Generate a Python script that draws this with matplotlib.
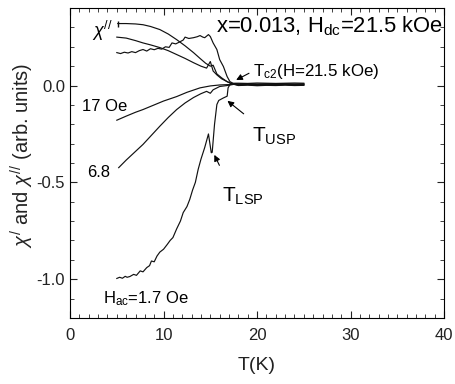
import matplotlib
matplotlib.use("Agg")
import matplotlib.pyplot as plt
from matplotlib.ticker import MultipleLocator

plt.rcParams['font.family'] = ['Liberation Sans', 'DejaVu Sans']
plt.rcParams['mathtext.fontset'] = 'custom'
plt.rcParams['mathtext.rm'] = 'Liberation Sans'
plt.rcParams['mathtext.it'] = 'Liberation Sans:italic'

# common high-T tail (all curves collapse onto ~0 above Tc2)
t_tail = [18, 19, 20, 21, 22, 23, 24, 25]

# chi'' curves
t_a = [5.1, 6, 7, 7.8, 8.6, 9.6, 10.5, 11.4, 12.3, 13.2, 13.9, 14.5, 15.0, 15.3, 15.7, 16.2, 16.8, 17.3, 17.6]
v_a = [0.32, 0.32, 0.318, 0.314, 0.305, 0.289, 0.266, 0.237, 0.205, 0.17, 0.14, 0.115, 0.1, 0.105, 0.06, 0.04, 0.02, 0.01, 0.012]
tail_a = [0.012, 0.011, 0.013, 0.012, 0.011, 0.012, 0.013, 0.012]

t_b = [5.0, 6, 7, 7.8, 8.6, 9.6, 10.5, 11.4, 12.3, 13.2, 14.0, 14.6, 15.0, 15.3, 15.7, 16.2, 16.8, 17.3, 17.6]
v_b = [0.25, 0.245, 0.232, 0.22, 0.21, 0.196, 0.18, 0.16, 0.14, 0.118, 0.1, 0.09, 0.124, 0.075, 0.055, 0.035, 0.02, 0.008, 0.01]
tail_b = [0.009, 0.01, 0.008, 0.009, 0.01, 0.009, 0.008, 0.009]

t_c = [5.0, 5.4, 5.8, 6.2, 6.6, 7.0, 7.4, 7.8, 8.2, 8.6, 9.0, 9.4, 9.8, 10.2, 10.6, 10.9, 11.3, 11.8,
       12.1, 12.3, 12.7, 13.2, 13.6, 13.9, 14.2, 14.4, 14.8, 15.0, 15.3, 15.7, 16.0, 16.4, 16.8, 17.1, 17.5]
v_c = [0.17, 0.165, 0.172, 0.168, 0.175, 0.17, 0.18, 0.186, 0.178, 0.19, 0.185, 0.192, 0.188, 0.2, 0.197,
       0.22, 0.215, 0.227, 0.235, 0.25, 0.243, 0.247, 0.252, 0.258, 0.25, 0.247, 0.263, 0.253, 0.22, 0.186,
       0.134, 0.098, 0.046, 0.02, 0.01]
tail_c = [0.006, 0.008, 0.005, 0.007, 0.006, 0.008, 0.006, 0.007]

# chi' curves for Hac = 17, 6.8, 1.7 Oe
t_17 = [5.0, 6, 7, 7.8, 9, 10, 11.4, 12.5, 13.9, 15, 16, 17, 17.5]
v_17 = [-0.179, -0.158, -0.138, -0.124, -0.1, -0.08, -0.057, -0.035, -0.012, -0.002, 0.003, 0.005, 0.008]
tail_17 = [0.004, 0.006, 0.003, 0.005, 0.004, 0.006, 0.004, 0.005]

t_68 = [5.2, 6, 7, 7.8, 8.7, 9.6, 10.5, 11.4, 12.3, 13.2, 14.0, 14.6, 15.0, 15.3, 16.0, 16.8, 17.5]
v_68 = [-0.424, -0.385, -0.34, -0.304, -0.257, -0.21, -0.165, -0.124, -0.09, -0.062, -0.042, -0.03,
        -0.04, -0.022, -0.005, 0.0, 0.006]
tail_68 = [0.002, 0.004, 0.001, 0.003, 0.002, 0.004, 0.002, 0.003]

t_17b = [5.0, 5.3, 5.6, 5.9, 6.1, 6.4, 6.8, 7.1, 7.5, 7.8, 8.2, 8.5, 8.7, 9.0, 9.3, 9.6, 10.0, 10.4,
         10.7, 11.0, 11.4, 11.8, 12.1, 12.5, 12.8, 13.1, 13.4, 13.7, 14.0, 14.4, 14.8, 15.1, 15.2,
         15.45, 15.7, 15.9, 16.4, 16.8, 16.9, 17.1, 17.5]
v_17b = [-0.996, -0.99, -0.995, -0.985, -0.99, -0.986, -0.975, -0.98, -0.957, -0.962, -0.94, -0.93,
         -0.906, -0.91, -0.88, -0.86, -0.845, -0.82, -0.80, -0.785, -0.74, -0.70, -0.656, -0.625,
         -0.588, -0.54, -0.50, -0.433, -0.38, -0.32, -0.25, -0.347, -0.345, -0.2, -0.098, -0.077,
         -0.064, -0.055, -0.012, 0.005, 0.008]
tail_17b = [0.0, 0.002, -0.001, 0.001, 0.0, 0.002, 0.0, 0.001]

fig = plt.figure(figsize=(4.55, 3.84), dpi=100)
ax = fig.add_axes([0.154, 0.172, 0.822, 0.807])

lw = 0.85
lc = '#111111'
ax.plot(t_a + t_tail, v_a + tail_a, color=lc, lw=lw, marker='|', markevery=[0], ms=5)
for t, v, tl in [(t_b, v_b, tail_b), (t_c, v_c, tail_c), (t_17, v_17, tail_17),
                 (t_68, v_68, tail_68), (t_17b, v_17b, tail_17b)]:
    ax.plot(t + t_tail, v + tl, color=lc, lw=lw)

ax.set_xlim(0, 40)
ax.set_ylim(-1.2, 0.4)
ax.xaxis.set_major_locator(MultipleLocator(10))
ax.xaxis.set_minor_locator(MultipleLocator(1))
ax.yaxis.set_major_locator(MultipleLocator(0.5))
ax.yaxis.set_minor_locator(MultipleLocator(0.1))
ax.tick_params(which='both', direction='in', top=True, right=True, labelsize=12, colors='#222222')
ax.tick_params(axis='x', pad=7)
ax.tick_params(which='major', length=5)
ax.tick_params(which='minor', length=3)
ax.yaxis.set_major_formatter(plt.FuncFormatter(lambda y, p: '%.1f' % y))

ax.set_xlabel('T(K)', fontsize=14, color='#222222', labelpad=10)
ax.set_ylabel(r'$\chi^{/}$ and $\chi^{//}$ (arb. units)', fontsize=14.5, color='#222222')
ax.yaxis.set_label_coords(-0.09, 0.526)

ax.text(39.9, 0.273, r'x=0.013, H$_{\mathrm{dc}}$=21.5 kOe', ha='right', va='baseline', fontsize=15.8)
ax.text(2.3, 0.25, r'$\chi^{//}$', fontsize=13)
ax.text(1.3, -0.11, '17 Oe', fontsize=12, va='center')
ax.text(1.8, -0.45, '6.8', fontsize=12, va='center')
ax.text(3.5, -1.1, r'H$_{\mathrm{ac}}$=1.7 Oe', fontsize=12, va='center')
ax.text(19.6, 0.07, r'T$_{\mathrm{c2}}$(H=21.5 kOe)', fontsize=12.2, va='center')
ax.text(19.5, -0.26, r'T$_{\mathrm{USP}}$', fontsize=15, va='center')
ax.text(16.2, -0.57, r'T$_{\mathrm{LSP}}$', fontsize=15, va='center')

arr = dict(arrowstyle='-|>', color='k', lw=0.8, mutation_scale=9)
ax.annotate('', xy=(17.5, 0.022), xytext=(19.4, 0.07), arrowprops=arr)
ax.annotate('', xy=(16.6, -0.07), xytext=(18.8, -0.155), arrowprops=arr)
ax.annotate('', xy=(15.3, -0.345), xytext=(16.1, -0.425), arrowprops=arr)

fig.savefig('out.png', dpi=100)
